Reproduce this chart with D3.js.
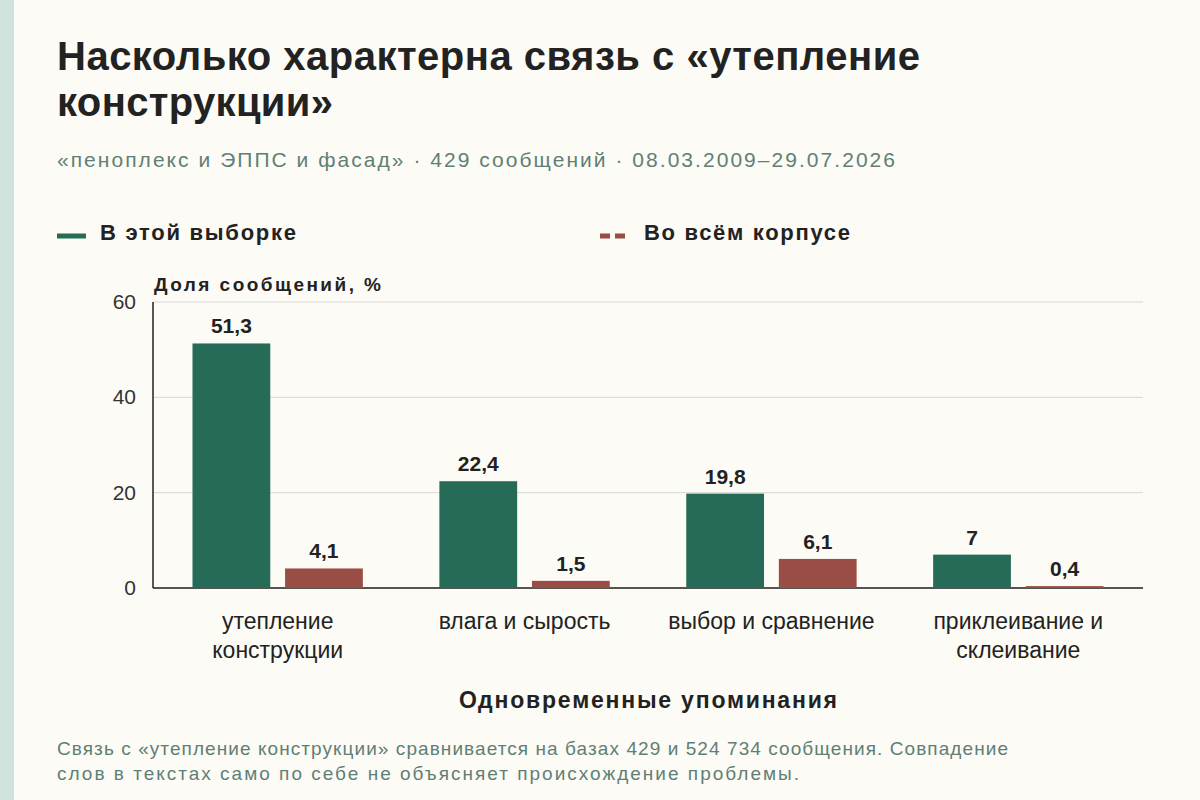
<!DOCTYPE html>
<html><head><meta charset="utf-8">
<script src="https://cdn.jsdelivr.net/npm/d3@7"></script>
<style>body{margin:0;background:#fcfbf5}</style></head>
<body><svg id="c" width="1200" height="800"></svg>
<script>
// данные
var categories = ["утепление\nконструкции", "влага и сырость", "выбор и сравнение", "приклеивание и\nсклеивание"];
var sampleValues = [51.3, 22.4, 19.8, 7];
var corpusValues = [4.1, 1.5, 6.1, 0.4];
var yTicks = [0, 20, 40, 60];

var svg = d3.select("#c");
var font = "'Liberation Sans', Arial, sans-serif";
svg.append("rect").attr("width", 1200).attr("height", 800).attr("fill", "#fcfbf5");
svg.append("rect").attr("width", 14).attr("height", 800).attr("fill", "#cfe3dc");

var green = "#256b58", red = "#9a4d44", ink = "#222";

function txt(xp, yp, size, s, opts) {
  opts = opts || {};
  return svg.append("text").attr("x", xp).attr("y", yp).attr("font-family", font).attr("font-size", size)
    .attr("font-weight", opts.bold ? "bold" : "normal").attr("fill", opts.fill || ink)
    .attr("text-anchor", opts.anchor || "start").attr("textLength", opts.len || null).text(s);
}

txt(57, 70, 40, "Насколько характерна связь с «утепление", {bold: true, len: 863});
txt(57, 116, 40, "конструкции»", {bold: true, len: 276});
txt(57, 167, 21, "«пеноплекс и ЭППС и фасад» · 429 сообщений · 08.03.2009–29.07.2026", {fill: "#5f7f75", len: 838});

// легенда
svg.append("line").attr("x1", 57).attr("x2", 86).attr("y1", 236).attr("y2", 236)
  .attr("stroke", green).attr("stroke-width", 5);
txt(100, 240, 22, "В этой выборке", {bold: true, len: 196});
svg.append("line").attr("x1", 600).attr("x2", 630).attr("y1", 236).attr("y2", 236)
  .attr("stroke", red).attr("stroke-width", 5).attr("stroke-dasharray", "10,5");
txt(644, 240, 22, "Во всём корпусе", {bold: true, len: 206});

var x0 = 153, x1 = 1143, yTop = 302, yBot = 588;
var x = d3.scaleBand().domain(d3.range(categories.length)).range([x0, x1]).paddingInner(0.31).paddingOuter(0.16);
var y = d3.scaleLinear().domain([0, 60]).range([yBot, yTop]);
var sub = d3.scaleBand().domain([0, 1]).range([0, x.bandwidth()]).paddingInner(0.16);

var g = svg.append("g");
g.selectAll(".grid").data(yTicks).enter().append("line")
  .attr("x1", x0).attr("x2", x1).attr("y1", d => y(d)).attr("y2", d => y(d))
  .attr("stroke", "#d8d8d2").attr("stroke-width", 1);
g.selectAll(".yt").data(yTicks).enter().append("text")
  .attr("x", 136).attr("y", d => y(d) + 7).attr("text-anchor", "end")
  .attr("font-family", font).attr("font-size", 21).attr("fill", "#333").text(d => d);
g.append("line").attr("x1", x0).attr("x2", x0).attr("y1", yTop).attr("y2", yBot).attr("stroke", ink).attr("stroke-width", 1.5);
g.append("line").attr("x1", x0).attr("x2", x1).attr("y1", yBot).attr("y2", yBot).attr("stroke", ink).attr("stroke-width", 1.5);
txt(154, 291, 19, "Доля сообщений, %", {bold: true, len: 227});

[sampleValues, corpusValues].forEach(function (vals, s) {
  var col = s === 0 ? green : red;
  g.selectAll(".b" + s).data(vals).enter().append("rect")
    .attr("x", (d, i) => x(i) + sub(s)).attr("width", sub.bandwidth())
    .attr("y", d => y(d)).attr("height", d => yBot - y(d)).attr("fill", col);
  g.selectAll(".l" + s).data(vals).enter().append("text")
    .attr("x", (d, i) => x(i) + sub(s) + sub.bandwidth() / 2).attr("y", d => y(d) - 10)
    .attr("text-anchor", "middle").attr("font-family", font).attr("font-size", 21)
    .attr("font-weight", "bold").attr("fill", ink).text(d => String(d).replace(".", ","));
});

categories.forEach(function (c, i) {
  var t = svg.append("text").attr("text-anchor", "middle").attr("font-family", font)
    .attr("font-size", 23).attr("fill", ink);
  c.split("\n").forEach(function (line, k) {
    t.append("tspan").attr("x", x(i) + x.bandwidth() / 2).attr("y", 629 + k * 29).text(line);
  });
});

txt(648, 708, 23, "Одновременные упоминания", {bold: true, anchor: "middle", len: 378});
txt(57, 755, 19, "Связь с «утепление конструкции» сравнивается на базах 429 и 524 734 сообщения. Совпадение", {fill: "#5f7f75", len: 951});
txt(57, 780, 19, "слов в текстах само по себе не объясняет происхождение проблемы.", {fill: "#5f7f75", len: 742});
</script></body></html>
